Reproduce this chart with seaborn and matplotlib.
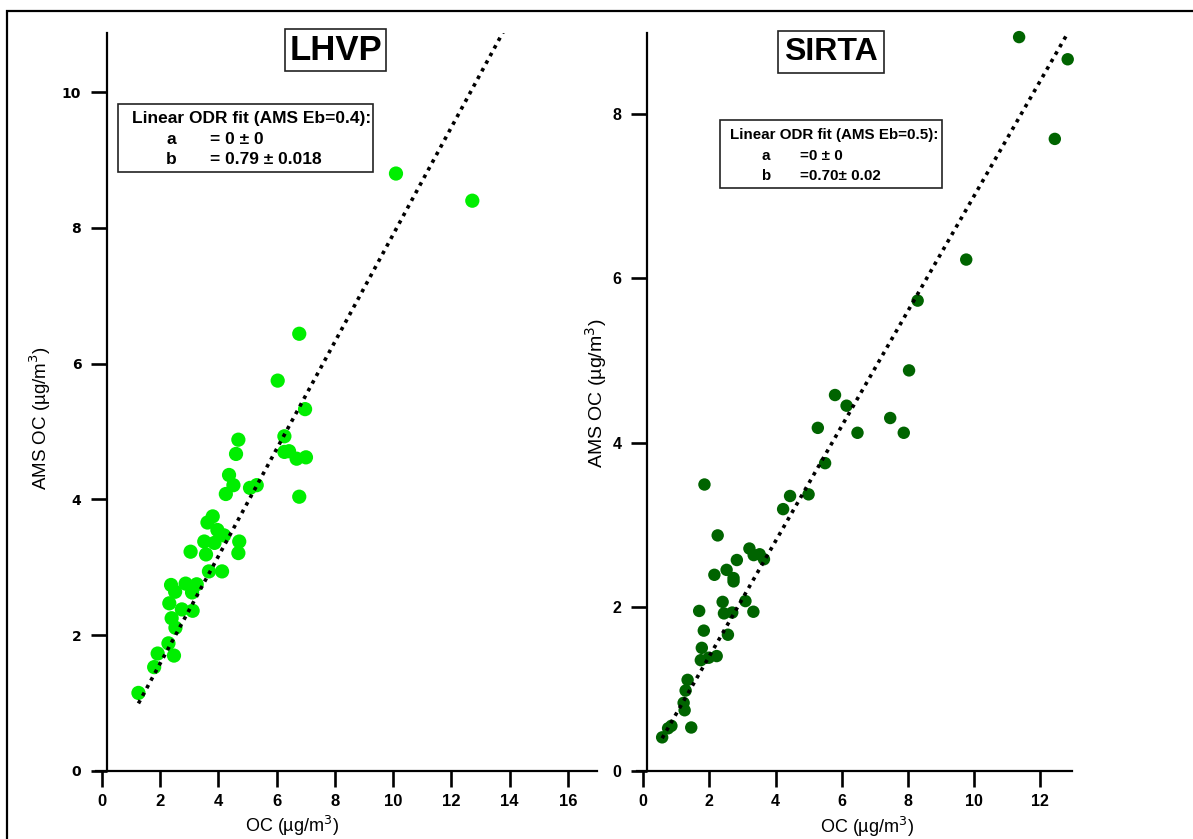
import numpy as np
import pandas as pd
import matplotlib
matplotlib.use("Agg")
import matplotlib.pyplot as plt
from matplotlib.patches import Rectangle
import seaborn as sns

# LHVP: filter OC vs AMS OC (µg/m3)
lhvp_oc = [1.26, 1.80, 1.92, 2.48, 2.29, 2.53, 2.40, 2.32, 2.75, 3.12,
           2.52, 3.10, 2.38, 2.88, 3.26, 3.68, 4.13, 3.05, 3.58, 4.69,
           3.52, 3.87, 4.72, 4.20, 3.97, 3.63, 3.81, 4.26, 4.52, 4.37,
           5.09, 5.32, 6.78, 4.61, 4.69, 6.27, 6.27, 6.43, 6.69, 7.01,
           6.98, 6.04, 6.78, 10.10, 12.72]
lhvp_ams = [1.15, 1.53, 1.73, 1.70, 1.88, 2.11, 2.25, 2.47, 2.38, 2.36,
            2.64, 2.63, 2.74, 2.76, 2.75, 2.94, 2.94, 3.23, 3.19, 3.21,
            3.38, 3.36, 3.38, 3.47, 3.55, 3.66, 3.75, 4.08, 4.21, 4.36,
            4.17, 4.21, 4.04, 4.67, 4.88, 4.93, 4.70, 4.71, 4.60, 4.62,
            5.33, 5.75, 6.44, 8.80, 8.40]

# SIRTA: filter OC vs AMS OC (µg/m3)
sirta_oc = [0.57, 0.75, 0.85, 1.45, 1.25, 1.22, 1.28, 1.34, 1.74, 1.98,
            2.22, 1.77, 2.56, 1.83, 1.69, 2.44, 2.69, 3.33, 2.40, 3.09,
            2.73, 2.73, 2.15, 2.52, 2.83, 3.65, 3.52, 3.34, 3.21, 2.25,
            4.23, 5.00, 4.44, 1.85, 5.50, 5.28, 6.48, 7.88, 7.47, 6.15,
            5.80, 8.04, 8.30, 9.77, 12.45, 12.84, 11.37]
sirta_ams = [0.41, 0.52, 0.55, 0.53, 0.74, 0.83, 0.98, 1.11, 1.35, 1.38,
             1.40, 1.50, 1.66, 1.71, 1.95, 1.92, 1.93, 1.94, 2.06, 2.07,
             2.31, 2.35, 2.39, 2.45, 2.57, 2.58, 2.64, 2.63, 2.71, 2.87,
             3.19, 3.37, 3.35, 3.49, 3.75, 4.18, 4.12, 4.12, 4.30, 4.45,
             4.58, 4.88, 5.73, 6.23, 7.70, 8.67, 8.94]

# ODR fit parameters (intercept fixed at zero)
lhvp_slope = 0.79
sirta_slope = 0.70

W, H = 1193, 839
DPI = 100

sns.set_theme(style="white")
plt.rcParams["font.family"] = ["Liberation Sans", "DejaVu Sans"]
for key in ("text.color", "axes.labelcolor", "xtick.color", "ytick.color",
            "axes.edgecolor"):
    plt.rcParams[key] = "black"
ARIAL = ["Liberation Sans", "DejaVu Sans"]

fig = plt.figure(figsize=(W / DPI, H / DPI), dpi=DPI)
fig.patch.set_facecolor("white")


def fx(px):
    return px / W


def fy(py):
    return 1 - py / H


# axes boxes in figure pixels: (left, right, top, y=0 baseline)
ax1 = fig.add_axes([fx(95.9), fy(771), (597 - 95.9) / W, (771 - 33) / H])
ax2 = fig.add_axes([fx(636.7), fy(771), (1072 - 636.7) / W, (771 - 33) / H])

df_l = pd.DataFrame({"OC": lhvp_oc, "AMS": lhvp_ams})
df_s = pd.DataFrame({"OC": sirta_oc, "AMS": sirta_ams})

sns.scatterplot(data=df_l, x="OC", y="AMS", ax=ax1, color="#00ee00",
                s=105, edgecolor="none", linewidth=0, zorder=3, legend=False,
                clip_on=False)
sns.scatterplot(data=df_s, x="OC", y="AMS", ax=ax2, color="#006400",
                s=80, edgecolor="none", linewidth=0, zorder=3, legend=False,
                clip_on=False)

# fitted lines y = b * x
xl = np.array([min(lhvp_oc), 14.5])
fit_l = pd.DataFrame({"x": xl, "y": lhvp_slope * xl})
xs = np.array([min(sirta_oc), max(sirta_oc)])
fit_s = pd.DataFrame({"x": xs, "y": sirta_slope * xs})
for ax, fit in ((ax1, fit_l), (ax2, fit_s)):
    sns.lineplot(data=fit, x="x", y="y", ax=ax, color="black", lw=2.6,
                 linestyle=(0, (1, 1.4)), zorder=4, legend=False)

ax1.set_xlim(-0.2, 17.0)
ax1.set_ylim(0, 10.87)
ax2.set_xlim(-0.2, 12.97)
ax2.set_ylim(0, 8.99)

ax1.set_xticks(np.arange(0, 17, 2))
ax1.set_yticks(np.arange(0, 11, 2))
ax2.set_xticks(np.arange(0, 13, 2))
ax2.set_yticks(np.arange(0, 9, 2))

for ax, spine_x in ((ax1, 0.18), (ax2, 0.11)):
    ax.set_facecolor("white")
    ax.spines["top"].set_visible(False)
    ax.spines["right"].set_visible(False)
    ax.spines["left"].set_position(("data", spine_x))
    for s in ("left", "bottom"):
        ax.spines[s].set_linewidth(1.6)
        ax.spines[s].set_color("black")
    ax.tick_params(axis="both", direction="out", length=11.5, width=1.9,
                   color="black", labelcolor="black", bottom=True, left=True)
    ax.tick_params(axis="x", pad=5)
    ax.tick_params(axis="y", pad=7)
    ax.grid(False)

for lab in ax1.get_xticklabels():
    lab.set_fontfamily(ARIAL)
    lab.set_fontweight("bold")
    lab.set_fontsize(12)
for lab in ax1.get_yticklabels():
    lab.set_fontfamily(["DejaVu Sans"])
    lab.set_fontweight("bold")
    lab.set_fontsize(10)
for lab in ax2.get_xticklabels() + ax2.get_yticklabels():
    lab.set_fontfamily(ARIAL)
    lab.set_fontweight("bold")
    lab.set_fontsize(11.5)

xlabel = "OC (µg/m$^{3}$)"
ylabel = "AMS OC (µg/m$^{3}$)"
ax1.set_xlabel("")
ax1.set_ylabel("")
ax2.set_xlabel("")
ax2.set_ylabel("")
fig.text(fx(292), fy(826), xlabel, ha="center", va="center",
         fontsize=13, family=ARIAL)
fig.text(fx(867), fy(827), xlabel, ha="center", va="center",
         fontsize=13, family=ARIAL)
fig.text(fx(40), fy(418), ylabel, ha="center", va="center", rotation=90,
         fontsize=13.5, family=ARIAL)
fig.text(fx(596), fy(393), ylabel, ha="center", va="center", rotation=90,
         fontsize=14, family=ARIAL)

# station titles in boxes
title_box = dict(boxstyle="square,pad=0.12", facecolor="white",
                 edgecolor="#222222", linewidth=1.2)
fig.text(fx(335.5), fy(50), "LHVP", ha="center", va="center", fontsize=25,
         fontweight="bold", family=ARIAL, bbox=title_box)
fig.text(fx(831), fy(52), "SIRTA", ha="center", va="center", fontsize=23,
         fontweight="bold", family=ARIAL,
         bbox=dict(title_box, boxstyle="square,pad=0.2"))


def fit_box(x0, x1, y0, y1, head, a_txt, b_txt, xs_head, xs_lab, xs_eq,
            ys, size):
    fig.add_artist(Rectangle((fx(x0), fy(y1)), (x1 - x0) / W, (y1 - y0) / H,
                             transform=fig.transFigure, facecolor="white",
                             edgecolor="#222222", linewidth=1.2, zorder=5))
    kw = dict(ha="left", va="center", fontsize=size, fontweight="bold",
              family=ARIAL, zorder=6)
    fig.text(fx(xs_head), fy(ys[0]), head, **kw)
    fig.text(fx(xs_lab), fy(ys[1]), "a", **kw)
    fig.text(fx(xs_eq), fy(ys[1]), a_txt, **kw)
    fig.text(fx(xs_lab), fy(ys[2]), "b", **kw)
    fig.text(fx(xs_eq), fy(ys[2]), b_txt, **kw)


fit_box(118, 373, 104, 172, "Linear ODR fit (AMS Eb=0.4):", "= 0 ± 0",
        f"= {lhvp_slope:.2f} ± 0.018", 131.5, 166, 210.5,
        (118, 140, 159.5), 12.5)
fit_box(720, 942, 120, 188, "Linear ODR fit (AMS Eb=0.5):", "=0 ± 0",
        f"={sirta_slope:.2f}± 0.02", 730, 761.5, 800,
        (135, 155.5, 176), 10.9)

# outer frame
fig.add_artist(Rectangle((fx(7), -0.2), 1.5, fy(11) + 0.2,
                         transform=fig.transFigure, fill=False,
                         edgecolor="black", linewidth=1.6, zorder=10,
                         clip_on=False))

fig.savefig("out.png", dpi=DPI)
